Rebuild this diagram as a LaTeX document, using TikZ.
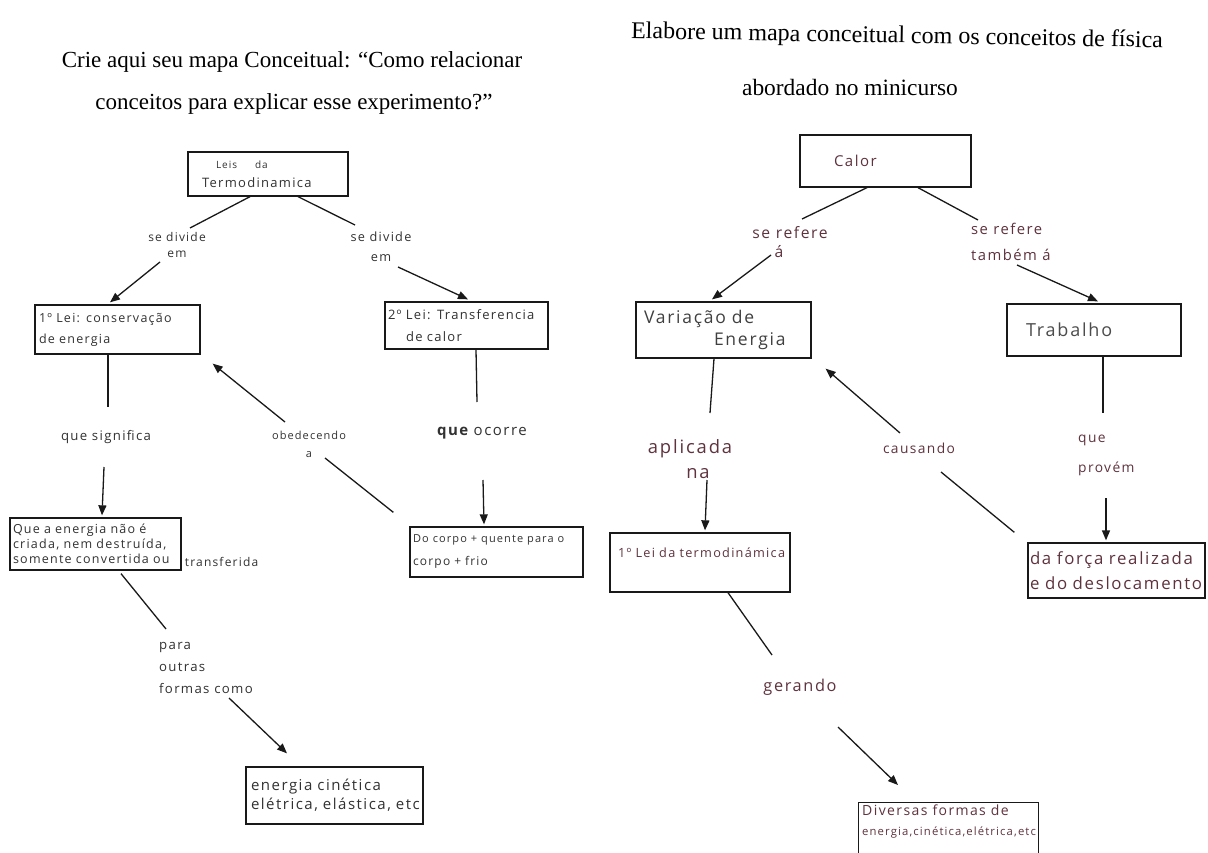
\documentclass[tikz,border=0pt]{standalone}
\usepackage{fontspec}
\setmainfont{Liberation Serif}
\newfontfamily\hand[LetterSpace=10]{Open Sans}
\usetikzlibrary{arrows.meta}
\definecolor{lefttxt}{RGB}{50,50,50}
\definecolor{righttxt}{RGB}{95,50,62}
\definecolor{ink}{RGB}{25,25,25}
\newcommand{\hs}[2]{\fontsize{#1}{#2}\selectfont}
\begin{document}
\begin{tikzpicture}[x=1pt,y=-1pt,
  conn/.style={line width=1.3pt, draw=ink},
  arr/.style={conn, -{Triangle[length=10pt,width=8pt]}},
  box/.style={draw=ink, line width=1.3pt, inner ysep=2pt, align=left},
  lt/.style={font=\hand\hs{12.5}{16}, text=lefttxt, inner sep=1pt, align=center},
  rt/.style={font=\hand\hs{16}{22}, text=righttxt, inner sep=1pt, align=center},
  head/.style={font=\hs{23}{26}, inner sep=0pt}
]
\fill[white] (0,0) rectangle (1208,853);
\useasboundingbox (0,0) rectangle (1208,853);

% ---------- headings ----------
\node[head] (h1) at (292,62) {Crie aqui seu mapa Conceitual: “Como relacionar};
\node[head] (h2) at (294,104) {conceitos para explicar esse experimento?”};
\node[head, rotate=-1, font=\hs{24}{26}] (h3) at (897,37) {Elabore um mapa conceitual com os conceitos de física};
\node[head, font=\hs{23.4}{26}] (h4) at (850,87) {abordado no minicurso};

% ---------- left map: boxes ----------
\node[box, lt, align=left, inner xsep=14pt, text width=132pt, minimum height=44pt,
      font=\hand\hs{13}{19}] (A) at (268,174)
  {\hspace*{14pt}{\hs{10}{12}Leis\hspace{18pt}da}\\Termodinamica};
\node[box, lt, align=left, inner xsep=4pt, text width=157pt, minimum height=49pt,
      font=\hand\hs{12.5}{21}] (B) at (117.5,329.5)
  {\mbox{1º Lei: conservação}\\de energia};
\node[box, lt, align=left, inner xsep=3pt, text width=157pt, minimum height=47pt,
      font=\hand\hs{13}{22}] (C) at (466.5,325.5)
  {\mbox{2º Lei: Transferencia}\\\hspace*{18pt}de calor};
\node[box, lt, align=left, inner xsep=3pt, text width=165pt, minimum height=52pt,
      font=\hand\hs{12.5}{15}] (D) at (95.5,544)
  {\makebox[156pt][s]{Que a energia não é}\\\mbox{criada, nem destruída,}\\\mbox{somente convertida ou}};
\node[lt, anchor=base west, font=\hand\hs{12}{15}] (Dx) at ([xshift=2pt,yshift=4pt]D.south east) {transferida};
\node[box, lt, align=left, inner xsep=3pt, text width=167pt, minimum height=50pt,
      font=\hand\hs{12}{23}] (E) at (496.5,552)
  {\mbox{\hs{11}{14}Do corpo + quente para o}\\corpo + frio};
\node[box, lt, align=left, inner xsep=5pt, text width=167pt, minimum height=57pt,
      font=\hand\hs{15}{19}] (F) at (334.5,795.5)
  {energia cinética\\\mbox{elétrica, elástica, etc}};

% ---------- left map: linking phrases ----------
\node[lt, font=\hand\hs{12}{16}] (l1) at (177,245) {se divide\\em};
\node[lt, font=\hand\hs{12.7}{20}] (l2) at (381,247) {se divide\\em};
\node[lt, font=\hand\hs{13.2}{16}] (l3) at (106,437) {que significa};
\node[lt, font=\hand\hs{11}{18}] (l4) at (309,444) {obedecendo\\a};
\node[lt, font=\hand\hs{15}{18}] (l5) at (482,433) {{\bfseries que} ocorre};
\node[lt, anchor=north west, align=left, font=\hand\hs{13.2}{22}] (l6) at (158,641) {para\\outras\\formas como};

% ---------- left map: connectors ----------
\coordinate (a1) at (190,228);  \coordinate (a2) at (160,262);
\coordinate (b1) at (355,225);  \coordinate (b2) at (398,267);
\coordinate (c1) at (108,407);  \coordinate (c2) at (104,467);
\coordinate (d1) at (477,402);  \coordinate (d2) at (483,480);
\coordinate (e1) at (325,458);  \coordinate (e2) at (285,422);
\coordinate (f1) at (166,629);  \coordinate (f2) at (229,698);

\draw[conn] ([xshift=-18pt]A.south) -- (a1);
\draw[arr]  (a2) -- ([xshift=-7.5pt,yshift=2pt]B.north);
\draw[conn] ([xshift=30pt]A.south) -- (b1);
\draw[arr]  (b2) -- ([xshift=1.5pt,yshift=2pt]C.north);
\draw[conn] ([xshift=-9.5pt]B.south) -- (c1);
\draw[arr]  (c2) -- ([xshift=6.5pt,yshift=2pt]D.north);
\draw[conn] ([xshift=9.5pt]C.south) -- (d1);
\draw[arr]  (d2) -- ([xshift=-12.5pt,yshift=2pt]E.north);
\draw[conn] ([xshift=-16pt,yshift=14pt]E.north west) -- (e1);
\draw[arr]  (e2) -- ([xshift=12pt,yshift=-9pt]B.south east);
\draw[conn] ([xshift=25.5pt,yshift=-3pt]D.south) -- (f1);
\draw[arr]  (f2) -- ([xshift=-47.5pt,yshift=13pt]F.north);

% ---------- right map: boxes ----------
\node[box, rt, align=left, inner xsep=10pt, text width=151pt, minimum height=52pt,
      font=\hand\hs{15}{20}] (G) at (885.5,161)
  {\hspace*{24pt}Calor};
\node[box, rt, align=left, inner xsep=8pt, text width=159pt, minimum height=56pt,
      font=\hand\hs{17.5}{22}, text=black!75] (H) at (723.5,330)
  {Variação de\\\hspace*{70pt}Energia};
\node[box, rt, align=left, inner xsep=10pt, text width=154pt, minimum height=52pt,
      font=\hand\hs{18}{22}, text=black!70] (I) at (1094,330)
  {\hspace*{9pt}Trabalho};
\node[box, rt, align=left, inner xsep=8pt, text width=164pt, minimum height=59pt,
      font=\hand\hs{12.7}{20}] (J) at (700,562.5)
  {\mbox{1º Lei da termodinámica}\\\mbox{}};
\node[box, rt, align=left, inner xsep=2pt, text width=173pt, minimum height=55pt,
      font=\hand\hs{16.8}{25}] (K) at (1116.5,570.5)
  {\mbox{da força realizada}\\\mbox{e do deslocamento}};
\node[box, minimum width=180pt, minimum height=70pt, anchor=north west] (L) at (858,802) {};
\node[rt, anchor=north west, align=left, font=\hand\hs{14}{20}] (Lt) at (861,804)
  {Diversas formas de\\{\hs{11.3}{13}energia,cinética,elétrica,etc}};

% ---------- right map: linking phrases ----------
\node[rt, font=\hand\hs{15.7}{19}] (r1) at (790,242) {se refere\\\hspace*{-22pt}á};
\node[rt, anchor=north west, align=left, font=\hand\hs{14.8}{26}] (r2) at (970,222) {se refere\\também á};
\node[rt, font=\hand\hs{18.4}{25}] (r3) at (690,459) {aplicada\\\hspace*{16pt}na};
\node[rt, font=\hand\hs{13.8}{18}] (r4) at (919,448) {causando};
\node[rt, anchor=west, align=left, font=\hand\hs{13.8}{30}] (r5) at (1077,455) {que\\provém};
\node[rt, font=\hand\hs{16.3}{20}] (r6) at (800,687) {gerando};

% ---------- right map: connectors ----------
\coordinate (g1) at (802,219);   \coordinate (g2) at (771,255);
\coordinate (k1) at (978,220);   \coordinate (k2) at (1017,265);
\coordinate (m1) at (710,413);   \coordinate (m2) at (707,480);
\coordinate (n1) at (1103,413);  \coordinate (n2) at (1106,498);
\coordinate (p1) at (941,472);   \coordinate (p2) at (900,433);
\coordinate (q1) at (772,655);   \coordinate (q2) at (838,727);

\draw[conn] ([xshift=-18.5pt]G.south) -- (g1);
\draw[arr]  (g2) -- ([xshift=-11.5pt,yshift=2pt]H.north);
\draw[conn] ([xshift=32.5pt]G.south) -- (k1);
\draw[arr]  (k2) -- ([xshift=4pt,yshift=2pt]I.north);
\draw[conn] ([xshift=-9.5pt]H.south) -- (m1);
\draw[arr]  (m2) -- ([xshift=5pt,yshift=2pt]J.north);
\draw[conn] ([xshift=9pt]I.south) -- (n1);
\draw[arr]  (n2) -- ([xshift=-10.5pt,yshift=2pt]K.north);
\draw[conn] ([xshift=-13pt,yshift=10pt]K.north west) -- (p1);
\draw[arr]  (p2) -- ([xshift=14pt,yshift=-10pt]H.south east);
\draw[conn] ([xshift=28pt]J.south) -- (q1);
\draw[arr]  (q2) -- ([xshift=40pt,yshift=17pt]L.north west);
\end{tikzpicture}
\end{document}
